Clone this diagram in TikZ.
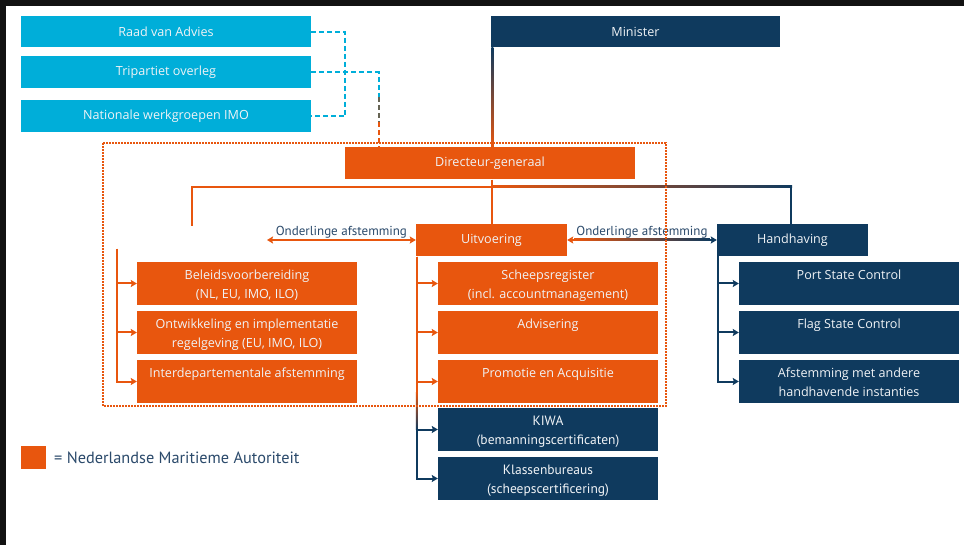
\documentclass[tikz,border=0pt]{standalone}
\usepackage{fontspec}
\setmainfont{Open Sans}
\newfontfamily\condfont{PT Sans}
\usetikzlibrary{arrows.meta,calc}
\definecolor{nmaorange}{RGB}{232,86,14}
\definecolor{nmanavy}{RGB}{15,58,94}
\definecolor{nmacyan}{RGB}{0,174,217}
\definecolor{lblcol}{RGB}{43,74,107}
\definecolor{boxtext}{RGB}{240,243,246}
\newcommand{\twoline}[2]{\strut #1\\#2\rule[-1.7pt]{0pt}{13.3pt}}
\begin{document}
\begin{tikzpicture}[x=1pt,y=-1pt,
  >={Stealth[length=6pt,width=7pt,inset=1pt]},
  box/.style={rectangle, inner sep=0pt, text=boxtext, align=center,
    font=\fontsize{12.6}{19}\selectfont},
  cyanbox/.style={box, fill=nmacyan, minimum width=290pt, minimum height=32pt},
  navybox/.style={box, fill=nmanavy},
  orangebox/.style={box, fill=nmaorange},
  colbox/.style={box, minimum width=220pt, minimum height=43pt},
  condbox/.style={colbox, font=\condfont\fontsize{13.5}{19}\selectfont},
  lbl/.style={text=lblcol, font=\condfont\fontsize{13}{16}\selectfont, inner sep=0pt, anchor=base},
  orangeline/.style={draw=nmaorange, line width=2pt},
  navyline/.style={draw=nmanavy, line width=2pt},
  cyandash/.style={draw=nmacyan, line width=2pt, dash pattern=on 5pt off 3pt},
  mixdash/.style={draw=nmacyan!45!nmaorange!80!black, line width=2pt, dash pattern=on 5pt off 3pt},
  orangedash/.style={draw=nmaorange, line width=2pt, dash pattern=on 5pt off 3pt},
  orangedot/.style={draw=nmaorange, line width=2pt, dash pattern=on 1.6pt off 1.4pt}
]
\fill[white] (0,0) rectangle (964,545);
\useasboundingbox (0,0) rectangle (964,545);
\fill[black!93] (0,0) rectangle (964,6);
\fill[black!93] (0,0) rectangle (6,545);

% top boxes
\node[cyanbox, minimum height=31pt] (raad) at (166,32) {Raad van Advies};
\node[cyanbox] (trip) at (166,72.5) {Tripartiet overleg};
\node[cyanbox] (nat) at (166,116.5) {Nationale werkgroepen IMO};
\node[navybox, minimum width=289pt, minimum height=31pt] (min) at (635.5,32) {Minister};
\node[orangebox, minimum width=290pt, minimum height=32pt] (dg) at (490,163.5) {Directeur-generaal};
\node[orangebox, minimum width=151pt, minimum height=32pt] (uitv) at (491.5,240.5) {Uitvoering};
\node[navybox, minimum width=151pt, minimum height=32pt] (hand) at (792.5,240) {Handhaving};

% left column
\node[colbox, fill=nmaorange] (bel) at (247,283.5) {\twoline{Beleidsvoorbereiding}{(NL, EU, IMO, ILO)}};
\node[colbox, fill=nmaorange] (ont) at (247,332.5) {\twoline{Ontwikkeling en implementatie}{regelgeving (EU, IMO, ILO)}};
\node[colbox, fill=nmaorange] (inter) at (247,381.5) {\twoline{Interdepartementale afstemming}{}};
% middle column
\node[colbox, fill=nmaorange] (schr) at (548,283.5) {\twoline{Scheepsregister}{(incl. accountmanagement)}};
\node[colbox, fill=nmaorange] (adv) at (548,332.5) {\twoline{Advisering}{}};
\node[colbox, fill=nmaorange] (prom) at (548,381.5) {\twoline{Promotie en Acquisitie}{}};
\node[condbox, fill=nmanavy] (kiwa) at (548,429.5) {\twoline{KIWA}{(bemanningscertificaten)}};
\node[condbox, fill=nmanavy] (klas) at (548,478.5) {\twoline{Klassenbureaus}{(scheepscertificering)}};
% right column
\node[colbox, fill=nmanavy] (psc) at (849,283.5) {\twoline{Port State Control}{}};
\node[colbox, fill=nmanavy] (fsc) at (849,332.5) {\twoline{Flag State Control}{}};
\node[colbox, fill=nmanavy] (afst) at (849,381.5) {\twoline{Afstemming met andere}{handhavende instanties}};

% advisory dashed connectors
\draw[cyandash] (raad.east) -- ++(34,0) |- (nat.east);
\coordinate (tdg) at ([xshift=34pt]dg.north west);
\coordinate (tdga) at ($(tdg)+(0,-50)$);
\coordinate (tdgb) at ($(tdg)+(0,-25)$);
\draw[cyandash] (trip.east) -| (tdga);
\draw[mixdash] (tdga) -- (tdgb);
\draw[orangedash] (tdgb) -- (tdg);

% minister -> DG (gradient)
\coordinate (mx) at ([xshift=0.5pt]min.south west);
\shade[top color=nmanavy, bottom color=nmaorange] (mx) rectangle ($(mx |- dg.north)+(2,0)$);

% DG -> Uitvoering and bar
\coordinate (hbar) at (uitv.north |- 0,187);
\coordinate (bfree) at (192,226);
\draw[orangeline] (uitv.north |- dg.south) -- (uitv.north);
\draw[orangeline] (hbar) -| (bfree);
\coordinate (hcorner) at ([xshift=-1.5pt]hand.north |- hbar);
\shade[left color=nmaorange, right color=nmanavy] ($(hbar)+(0,-1)$) rectangle ($(hcorner)+(1,1)$);
\draw[navyline] ($(hcorner)+(0,-1)$) -- (hcorner |- hand.north);

% onderlinge afstemming arrows
\coordinate (lfree) at (267,240);
\draw[orangeline, <->] (lfree) -- (uitv.west |- lfree);
\node[lbl] (lbl1) at ($(lfree)!0.5!(uitv.west |- lfree)+(0,-4)$) {Onderlinge afstemming};
\coordinate (rs) at (uitv.east |- lfree);
\coordinate (re) at (hand.west |- lfree);
\draw[orangeline, <-] (rs) -- ++(8,0);
\draw[navyline, ->] ($(re)+(-8,0)$) -- (re);
\shade[left color=nmaorange, right color=nmanavy] ($(rs)+(7,-1)$) rectangle ($(re)+(-7,1)$);
\node[lbl] (lbl2) at ($(rs)!0.5!(re)+(0,-4)$) {Onderlinge afstemming};

% left column connectors
\coordinate (ltop) at (117,249);
\draw[orangeline, ->] (ltop) |- (bel.west);
\draw[orangeline, ->] (ltop) |- (ont.west);
\draw[orangeline, ->] (ltop) |- (inter.west);

% middle column connectors
\coordinate (mtop) at ([xshift=1pt]uitv.south west);
\coordinate (mmid) at (mtop |- 0,392);
\coordinate (mlow) at (mtop |- kiwa.west);
\draw[orangeline] (mtop) -- (mmid);
\draw[orangeline, ->] (mtop) |- (schr.west);
\draw[orangeline, ->] (mtop) |- (adv.west);
\draw[orangeline, ->] (mtop) |- (prom.west);
\shade[top color=nmaorange, bottom color=nmanavy] ($(mmid)+(-1,0)$) rectangle ($(mlow)+(1,0)$);
\draw[navyline, ->] (mlow) -- (kiwa.west);
\draw[navyline, ->] ($(mlow)+(0,-1)$) |- (klas.west);

% right column connectors
\coordinate (rtop) at ([xshift=1pt]hand.south west);
\draw[navyline, ->] (rtop) |- (psc.west);
\draw[navyline, ->] (rtop) |- (fsc.west);
\draw[navyline, ->] (rtop) |- (afst.west);

% NMA frame
\draw[orangedot] (103,143) rectangle (666,406);

% legend
\node[fill=nmaorange, minimum width=25pt, minimum height=23pt, inner sep=0pt] (leg) at (33.5,457.5) {};
\node[anchor=west, inner sep=0pt, text=lblcol, font=\condfont\fontsize{16.3}{20}\selectfont] (legtxt) at (54,458) {= Nederlandse Maritieme Autoriteit};
\end{tikzpicture}
\end{document}
